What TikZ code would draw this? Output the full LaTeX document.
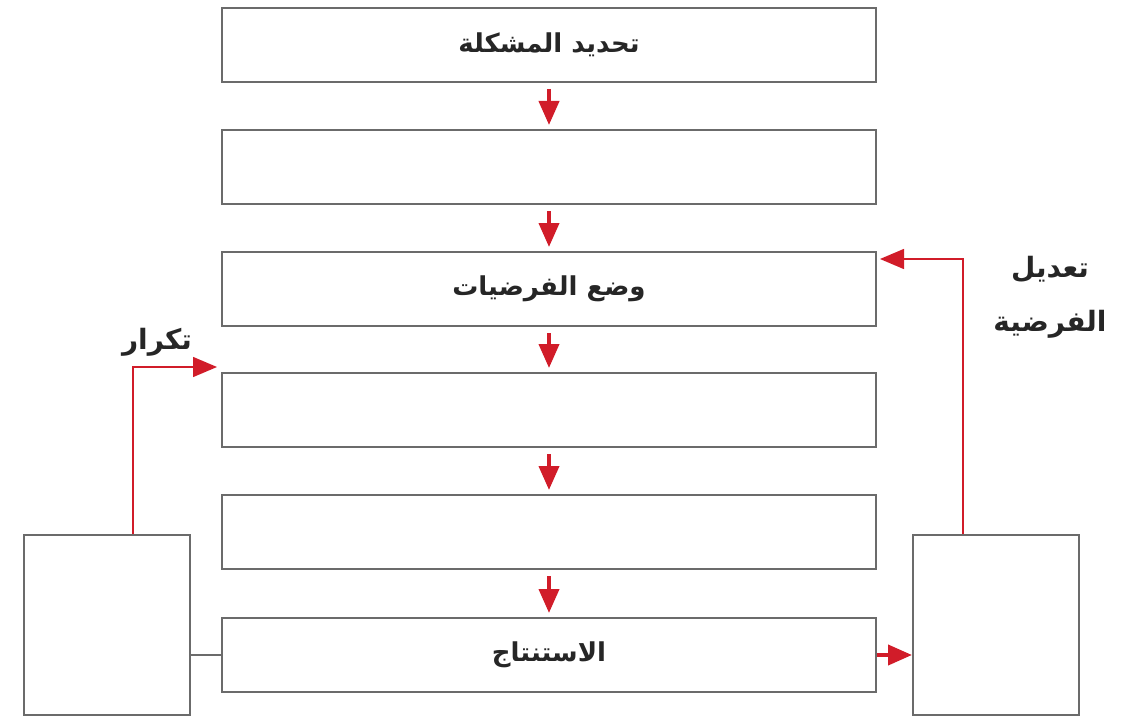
\documentclass[tikz,border=0pt]{standalone}
\usepackage{fontspec}
\TeXXeTstate=1
\newfontfamily\arabicfont[Script=Arabic]{DejaVu Sans}
\usetikzlibrary{arrows.meta}
\definecolor{boxgray}{rgb}{0.42, 0.42, 0.42}
\definecolor{flowred}{rgb}{0.82, 0.11, 0.16}
\tikzstyle{step_box}=[draw=boxgray, line width=1pt, inner sep=0pt, minimum width=327pt, minimum height=37pt, font=\arabicfont\bfseries\fontsize{13}{15}\selectfont, text=black!85]
\tikzstyle{side_box}=[draw=boxgray, line width=1pt, inner sep=0pt, minimum width=83pt, minimum height=90pt]
\tikzstyle{tip}=[-{Triangle[length=12pt, width=10pt]}]
\tikzstyle{down}=[tip, color=flowred, line width=2pt, shorten <=3pt, shorten >=2pt]
\tikzstyle{loop_back}=[tip, color=flowred, line width=0.7pt]
\tikzstyle{side_txt}=[font=\arabicfont\bfseries\fontsize{14}{27}\selectfont, text=black!85, align=center]

\begin{document}
\begin{tikzpicture}[x=0.5pt, y=-0.5pt]
    \useasboundingbox (0,0) rectangle (1130,722);
    % the column of steps
    \node[step_box] (b1) at (549,45) {\beginR تحديد المشكلة\endR};
    \node[step_box] (b2) at (549,167) {};
    \node[step_box] (b3) at (549,289) {\beginR وضع الفرضيات\endR};
    \node[step_box] (b4) at (549,410) {};
    \node[step_box] (b5) at (549,532) {};
    \node[step_box] (b6) at (549,655) {\beginR الاستنتاج\endR};

    % side boxes
    \node[side_box] (left) at (107,625) {};
    \node[side_box] (right) at (996,625) {};

    % arrows down the column, using a loop
    \foreach \a/\b in {b1/b2, b2/b3, b3/b4, b4/b5, b5/b6}{
      \draw[down] (\a.south) -- (\b.north);
    }

    % repeat and modify
    \draw[loop_back] ([xshift=13pt]left.north) |- ([xshift=-2pt, yshift=2.5pt]b4.north west);
    \draw[loop_back] ([xshift=-16.5pt]right.north) |- ([xshift=1.5pt, yshift=-4pt]b3.north east);
    \node[side_txt] (repeat) at (157,342) {\beginR تكرار\endR};
    \node[side_txt] (modify) at (1050,297) {\beginR تعديل\endR\\\beginR الفرضية\endR};

    % bottom links
    \draw[boxgray, line width=0.7pt] (left.east |- b6) -- (b6.west);
    \draw[tip, color=flowred, line width=2pt] (b6.east) -- (right.west |- b6.east);
\end{tikzpicture}
\end{document}
